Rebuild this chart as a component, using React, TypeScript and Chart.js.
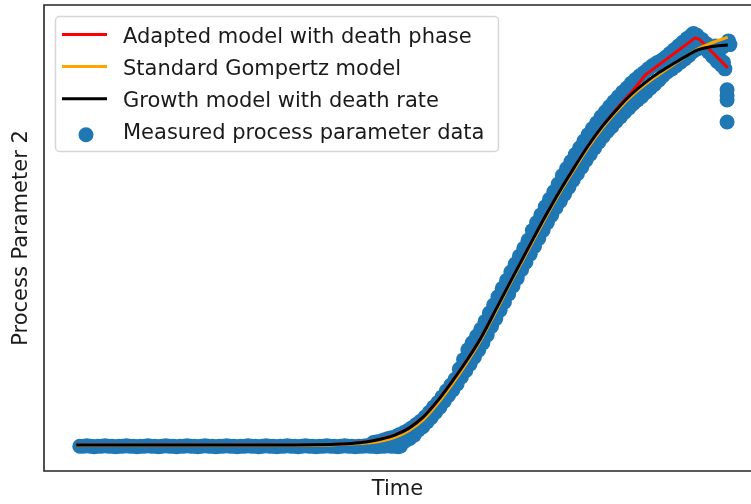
import { useEffect, useRef } from "react";
import { Chart, registerables } from "chart.js";

Chart.register(...registerables);

const legendLabels = [
  "Adapted model with death phase",
  "Standard Gompertz model",
  "Growth model with death rate",
  "Measured process parameter data",
];
const xAxisTitle = "Time";
const yAxisTitle = "Process Parameter 2";

// Growth model with death rate (black)
const growthModel: [number, number][] = [
  [4.5, 5.6], [20, 5.6], [35, 5.6], [40, 5.7], [43, 5.9], [45, 6.2], [47, 6.8], [49, 7.7],
  [51, 9.2], [53, 11.6], [55, 15.1], [57, 19.2], [59, 23.6], [61, 28.5], [63, 34.3],
  [65, 40.2], [67, 46.0], [68, 48.9], [70, 54.6], [72, 60.0], [74, 65.0], [76, 69.8],
  [78, 74.0], [80, 77.6], [82, 80.8], [84, 83.4], [86, 85.6], [88, 87.5], [90, 89.3],
  [91.2, 90.3], [93, 91.0], [95.5, 91.4],
];

// Standard Gompertz model (orange)
const gompertzModel: [number, number][] = [
  [4.5, 5.5], [20, 5.5], [35, 5.5], [40, 5.6], [43, 5.8], [45, 6.0], [47, 6.4], [49, 7.2],
  [51, 8.7], [53, 11.0], [55, 14.5], [57, 18.6], [59, 23.1], [61, 28.1], [63, 33.9],
  [65, 39.9], [67, 45.6], [68, 48.5], [70, 54.2], [72, 59.6], [74, 64.6], [76, 69.4],
  [78, 73.6], [80, 77.2], [82, 80.4], [84, 83.0], [86, 85.2], [88, 87.3], [90, 89.3],
  [91.2, 90.5], [93, 91.7], [95.5, 93.1],
];

// Adapted model with death phase (red)
const adaptedModel: [number, number][] = [
  [4.5, 5.6], [20, 5.6], [35, 5.6], [40, 5.7], [43, 5.9], [45, 6.2], [47, 6.8], [49, 7.7],
  [51, 9.2], [53, 11.6], [55, 15.1], [57, 19.2], [59, 23.6], [61, 28.5], [63, 34.3],
  [65, 40.2], [67, 46.0], [68, 48.9], [70, 54.6], [72, 60.0], [74, 65.0], [76, 69.8],
  [78, 74.0], [80, 77.8], [82, 81.2], [84, 85.0], [90.9, 92.9], [91.5, 92.7], [95.5, 86.5],
];

// Measured process parameter data (blue scatter): lag phase
const measuredLag: [number, number][] = [
  [5.0, 5.3], [5.5, 5.3], [6.0, 5.4], [6.5, 5.3], [7.0, 5.2], [7.5, 5.3], [8.0, 5.3], [8.5, 5.4],
  [9.0, 5.3], [9.5, 5.3], [10.0, 5.2], [10.5, 5.3], [11.0, 5.3], [11.5, 5.4], [12.0, 5.3],
  [12.5, 5.3], [13.0, 5.2], [13.5, 5.3], [14.0, 5.3], [14.5, 5.4], [15.0, 5.3], [15.5, 5.3],
  [16.0, 5.2], [16.5, 5.3], [17.0, 5.4], [17.5, 5.3], [18.0, 5.3], [18.5, 5.2], [19.0, 5.3],
  [19.5, 5.3], [20.0, 5.4], [20.5, 5.3], [21.0, 5.3], [21.5, 5.2], [22.0, 5.3], [22.5, 5.4],
  [23.0, 5.3], [23.5, 5.3], [24.0, 5.2], [24.5, 5.3], [25.0, 5.3], [25.5, 5.4], [26.0, 5.3],
  [26.5, 5.3], [27.0, 5.2], [27.5, 5.3], [28.0, 5.3], [28.5, 5.4], [29.0, 5.3], [29.5, 5.3],
  [30.0, 5.2], [30.5, 5.3], [31.0, 5.4], [31.5, 5.3], [32.0, 5.3], [32.5, 5.2], [33.0, 5.3],
  [33.5, 5.3], [34.0, 5.4], [34.5, 5.3], [35.0, 5.3], [35.5, 5.2], [36.0, 5.3], [36.5, 5.4],
  [37.0, 5.3], [37.5, 5.3], [38.0, 5.2], [38.5, 5.3], [39.0, 5.3], [39.5, 5.4], [40.0, 5.3],
  [40.5, 5.3], [41.0, 5.2], [41.5, 5.3], [42.0, 5.4], [42.5, 5.3], [43.0, 5.3], [43.5, 5.2],
  [44.0, 5.3], [44.5, 5.3], [45.0, 5.4], [45.5, 5.3], [46.0, 5.3], [46.5, 5.2], [47.0, 5.3],
  [47.5, 5.3], [48.0, 5.4], [48.5, 5.3], [49.0, 5.3], [49.5, 5.2], [49.8, 5.4],
];

// Measured process parameter data: growth phase
const measuredGrowth: [number, number][] = [
  [46.0, 6.1], [46.4, 6.2], [46.8, 6.3], [47.2, 6.5], [47.6, 6.7], [48.0, 6.9], [48.4, 7.1],
  [48.8, 7.2], [49.2, 7.4],
  [49.6, 7.8], [49.9, 6.1], [50.2, 8.2], [50.5, 6.5], [50.8, 8.7], [51.1, 7.0], [51.4, 9.3],
  [51.7, 7.7], [52.0, 10.0], [52.3, 8.8], [52.6, 10.7], [52.9, 9.5], [53.2, 11.6], [53.5, 10.5],
  [53.8, 12.6], [54.1, 11.5], [54.4, 13.7], [54.7, 12.6], [55.0, 14.7], [55.3, 13.7],
  [55.6, 15.9], [55.9, 15.0], [56.2, 17.2], [56.5, 16.2], [56.8, 18.4], [57.1, 17.4],
  [57.4, 19.7], [57.7, 18.7], [58.0, 21.9], [58.3, 20.2], [58.6, 23.9], [58.9, 21.5],
  [59.2, 26.0], [59.5, 22.9], [59.8, 27.5], [60.1, 24.4], [60.4, 28.9], [60.7, 25.9],
  [61.0, 30.4], [61.3, 27.5], [61.6, 32.1], [61.9, 29.2], [62.2, 33.9], [62.5, 31.0],
  [62.8, 35.6], [63.1, 32.7], [63.4, 37.4], [63.7, 34.5], [64.0, 39.2], [64.3, 36.2],
  [64.6, 40.9], [64.9, 38.0], [65.2, 42.7], [65.5, 39.7], [65.8, 44.4], [66.1, 41.4],
  [66.4, 46.1], [66.7, 43.2], [67.0, 47.8], [67.3, 44.8], [67.6, 49.5], [67.9, 46.5],
  [68.2, 51.6], [68.5, 48.2], [68.8, 53.3], [69.1, 49.9], [69.4, 55.0], [69.7, 51.6],
  [70.0, 56.7], [70.3, 53.3], [70.6, 58.3], [70.9, 54.9], [71.2, 59.9], [71.5, 56.5],
  [71.8, 61.6], [72.1, 57.9], [72.4, 63.4], [72.7, 59.4], [73.0, 64.9], [73.3, 60.9],
  [73.6, 66.4], [73.9, 62.4], [74.2, 67.9], [74.5, 63.8], [74.8, 69.3], [75.1, 65.2],
  [75.4, 70.8], [75.7, 66.7], [76.0, 72.2], [76.3, 68.0], [76.6, 73.5], [76.9, 69.3],
  [77.2, 74.7], [77.5, 70.6], [77.8, 76.0], [78.1, 71.8], [78.4, 77.1], [78.7, 72.9],
  [79.0, 78.2], [79.3, 73.9], [79.6, 79.3], [79.9, 75.0], [80.2, 80.3], [80.5, 76.0],
  [80.8, 81.3], [81.1, 77.0], [81.4, 82.2], [81.7, 77.9], [82.0, 83.2], [82.3, 78.8],
  [82.6, 84.0], [82.9, 79.6], [83.2, 84.8], [83.5, 80.4], [83.8, 85.5], [84.1, 81.3],
  [84.4, 86.3], [84.7, 82.2], [85.0, 87.0], [85.3, 83.0], [85.6, 87.6], [85.9, 83.9],
  [86.2, 88.1], [86.5, 84.9], [86.8, 88.8], [87.1, 85.7], [87.4, 89.6], [87.7, 86.3],
  [88.0, 90.4], [88.3, 87.0], [88.6, 91.2], [88.9, 87.7], [89.2, 92.0], [89.5, 88.4],
  [89.8, 92.8], [90.1, 89.2], [90.4, 93.5], [90.7, 90.1], [90.7, 93.9],
];

// Measured process parameter data: death phase
const measuredDeath: [number, number][] = [
  [91.0, 92.0], [91.2, 93.5], [91.3, 90.6], [91.6, 91.8], [91.9, 92.6], [92.2, 90.8],
  [92.5, 91.7], [92.8, 89.9], [93.1, 90.6], [93.4, 88.9], [93.7, 89.6], [93.8, 91.2],
  [94.0, 87.9], [94.3, 88.6], [94.6, 87.1], [94.8, 91.0], [94.9, 87.7], [95.1, 86.3],
  [95.6, 92.3], [95.8, 91.5],
  [95.4, 81.8], [95.4, 80.5], [95.4, 79.6], [95.4, 74.9],
];

// visible part of the time axis (the plot is cut at the picture's right edge)
const timeRange = [0, 98.74];
const valueRange = [0, 100];

const COLORS = {
  adapted: "#ff0000",
  gompertz: "#ffa500",
  growth: "#000000",
  measured: "#1f77b4",
};
const FONT = "'DejaVu Sans', 'Liberation Sans', sans-serif";

const toXY = (arr: [number, number][]) => arr.map(([x, y]) => ({ x, y }));

const frameLegendPlugin = {
  id: "frameLegend",
  afterDraw(chart: any) {
    const { ctx, chartArea: a } = chart;
    ctx.save();
    // axes frame: top, left and bottom spines (right spine lies beyond the picture)
    ctx.strokeStyle = "#262626";
    ctx.lineWidth = 1.6;
    ctx.beginPath();
    ctx.moveTo(a.right + 5, a.top);
    ctx.lineTo(a.left, a.top);
    ctx.lineTo(a.left, a.bottom);
    ctx.lineTo(a.right + 5, a.bottom);
    ctx.stroke();

    // legend
    ctx.font = `21px ${FONT}`;
    const boxL = a.left + 11.5;
    const boxT = a.top + 11.5;
    const textX = a.left + 79;
    const maxW = Math.max(...legendLabels.map((t) => ctx.measureText(t).width));
    const boxR = textX + maxW + 14;
    const boxB = boxT + 135;
    const r = 4;
    ctx.beginPath();
    ctx.moveTo(boxL + r, boxT);
    ctx.lineTo(boxR - r, boxT);
    ctx.arcTo(boxR, boxT, boxR, boxT + r, r);
    ctx.lineTo(boxR, boxB - r);
    ctx.arcTo(boxR, boxB, boxR - r, boxB, r);
    ctx.lineTo(boxL + r, boxB);
    ctx.arcTo(boxL, boxB, boxL, boxB - r, r);
    ctx.lineTo(boxL, boxT + r);
    ctx.arcTo(boxL, boxT, boxL + r, boxT, r);
    ctx.closePath();
    ctx.fillStyle = "rgba(255,255,255,0.8)";
    ctx.fill();
    ctx.strokeStyle = "#d6d6d6";
    ctx.lineWidth = 1.5;
    ctx.stroke();

    const handleColors = [COLORS.adapted, COLORS.gompertz, COLORS.growth];
    const baseline0 = a.top + 38;
    const step = 32.1;
    legendLabels.forEach((label, i) => {
      const base = baseline0 + i * step;
      if (i < 3) {
        ctx.beginPath();
        ctx.moveTo(a.left + 18, base - 8.5);
        ctx.lineTo(a.left + 63, base - 8.5);
        ctx.strokeStyle = handleColors[i];
        ctx.lineWidth = 3;
        ctx.stroke();
      } else {
        ctx.beginPath();
        ctx.arc(a.left + 42, base - 4.5, 7.5, 0, Math.PI * 2);
        ctx.fillStyle = COLORS.measured;
        ctx.fill();
      }
      ctx.fillStyle = "#1a1a1a";
      ctx.textBaseline = "alphabetic";
      ctx.textAlign = "left";
      ctx.fillText(label, textX, base);
    });
    ctx.restore();
  },
};

export default function App() {
  const canvasRef = useRef<HTMLCanvasElement | null>(null);

  useEffect(() => {
    document.body.style.margin = "0";
    document.body.style.background = "#ffffff";
    const canvas = canvasRef.current;
    if (!canvas) return;
    const chart = new Chart(canvas, {
      type: "scatter",
      data: {
        datasets: [
          {
            type: "line",
            label: legendLabels[2],
            data: toXY(growthModel),
            borderColor: COLORS.growth,
            borderWidth: 3,
            pointRadius: 0,
            cubicInterpolationMode: "monotone",
            fill: false,
            order: 0,
          } as any,
          {
            type: "line",
            label: legendLabels[1],
            data: toXY(gompertzModel),
            borderColor: COLORS.gompertz,
            borderWidth: 3,
            pointRadius: 0,
            cubicInterpolationMode: "monotone",
            fill: false,
            order: 1,
          },
          {
            type: "line",
            label: legendLabels[0],
            data: toXY(adaptedModel),
            borderColor: COLORS.adapted,
            borderWidth: 3,
            pointRadius: 0,
            tension: 0,
            fill: false,
            order: 2,
          },
          {
            type: "scatter",
            label: legendLabels[3],
            data: toXY([...measuredLag, ...measuredGrowth, ...measuredDeath]),
            backgroundColor: COLORS.measured,
            borderColor: COLORS.measured,
            borderWidth: 0,
            pointRadius: 7.5,
            pointHoverRadius: 7.5,
            order: 3,
          },
        ],
      },
      options: {
        animation: false,
        responsive: false,
        events: [],
        layout: { autoPadding: false, padding: { top: 5, right: 0, bottom: 0, left: 0 } },
        plugins: {
          legend: { display: false },
          tooltip: { enabled: false },
        },
        scales: {
          x: {
            type: "linear",
            min: timeRange[0],
            max: timeRange[1],
            grid: { display: false, drawTicks: false },
            border: { display: false },
            ticks: { display: false },
            title: {
              display: true,
              text: xAxisTitle,
              color: "#1a1a1a",
              font: { family: FONT, size: 21, lineHeight: 1.2 },
              padding: { top: 6.4, bottom: 1.4 },
            },
          },
          y: {
            type: "linear",
            min: valueRange[0],
            max: valueRange[1],
            grid: { display: false, drawTicks: false },
            border: { display: false },
            ticks: { display: false },
            title: {
              display: true,
              text: yAxisTitle,
              color: "#1a1a1a",
              font: { family: FONT, size: 21, lineHeight: 1.2 },
              padding: { top: 9.4, bottom: 9.4 },
            },
          },
        },
      },
      plugins: [frameLegendPlugin],
    });
    return () => chart.destroy();
  }, []);

  return (
    <div style={{ width: 751, height: 504, overflow: "hidden", position: "relative", background: "#fff" }}>
      <canvas ref={canvasRef} width={751} height={504} style={{ display: "block", width: 751, height: 504 }} />
    </div>
  );
}
